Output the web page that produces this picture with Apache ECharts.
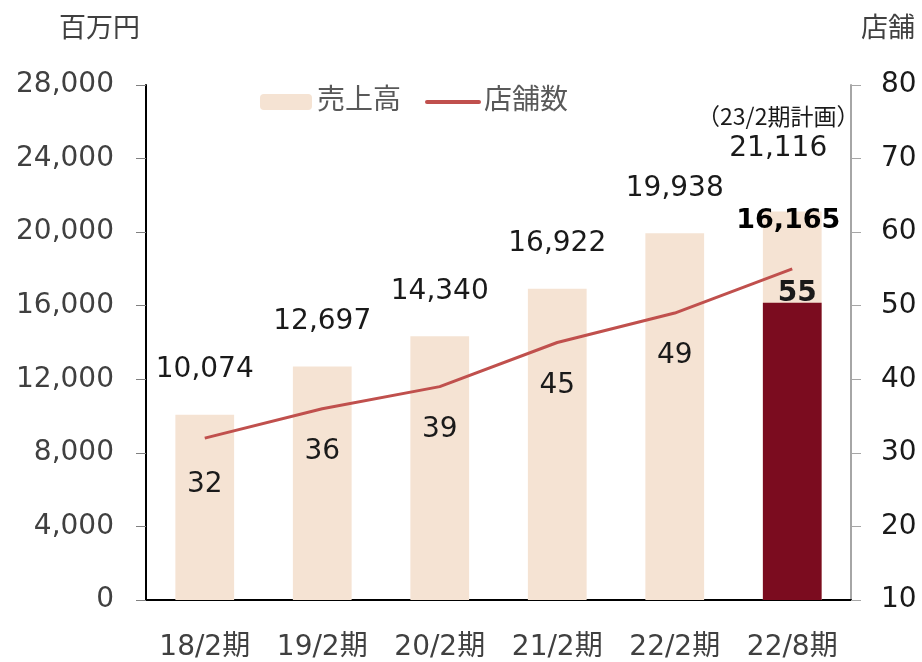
<!DOCTYPE html>
<html>
<head>
<meta charset="utf-8">
<script src="https://cdn.jsdelivr.net/npm/echarts@6/dist/echarts.min.js"></script>
<style>
  html, body { margin: 0; padding: 0; background: #fff; }
  #chart { width: 922px; height: 662px; }
</style>
</head>
<body>
<div id="chart"></div>
<script>
  // データ
  const periods = ['18/2期', '19/2期', '20/2期', '21/2期', '22/2期', '22/8期'];
  const sales = [10074, 12697, 14340, 16922, 19938, 21116];   // 最後は23/2期計画
  const salesActual = [null, null, null, null, null, 16165];  // 22/8期 実績
  const stores = [32, 36, 39, 45, 49, 55];
  const salesTicks = [0, 28000, 4000];
  const storeTicks = [10, 80, 10];

  const font = '"DejaVu Sans", "Noto Sans CJK JP", sans-serif';
  const axisGray = '#404040';

  let myChart = echarts.init(document.getElementById('chart'));

  let salesData = sales.map((v, i) => {
    if (i === sales.length - 1) {
      return {
        value: v,
        label: {
          distance: 48,
          offset: [-14, 0],
          formatter: '{s|（23/2期計画）}\n{b|' + v.toLocaleString('en-US') + '}'
        }
      };
    }
    return v;
  });

  let storeData = stores.map((v, i) => {
    if (i === 0) return { value: v, label: { distance: 33 } };
    if (i === stores.length - 1) {
      return { value: v, label: { distance: 11, fontWeight: 'bold', offset: [5, 0] } };
    }
    return v;
  });

  let option = {
    textStyle: { fontFamily: font },
    grid: { left: 146, right: 71, top: 85, bottom: 61 },
    legend: {
      data: ['売上高', { name: '店舗数', itemStyle: { opacity: 0 }, lineStyle: { width: 4, cap: 'round' } }],
      left: 255, top: 83,
      itemWidth: 52, itemHeight: 16, itemGap: 24,
      textStyle: { fontSize: 28, color: '#595959', fontFamily: font }
    },
    xAxis: {
      type: 'category',
      data: periods,
      axisLine: { lineStyle: { color: '#000', width: 2 } },
      axisTick: { show: false },
      axisLabel: { fontSize: 28, color: axisGray, margin: 34, interval: 0 }
    },
    yAxis: [
      {
        type: 'value',
        min: salesTicks[0], max: salesTicks[1], interval: salesTicks[2],
        name: '百万円',
        nameLocation: 'end',
        nameGap: 42,
        nameTextStyle: { fontSize: 27, color: axisGray, align: 'right', padding: [0, 6, 0, 0] },
        axisLine: { show: true, lineStyle: { color: '#000', width: 2 } },
        axisTick: { show: true, length: 10, lineStyle: { color: '#808080' } },
        axisLabel: { fontSize: 28, color: axisGray, margin: 32,
          formatter: v => v.toLocaleString('en-US') },
        splitLine: { show: false }
      },
      {
        type: 'value',
        min: storeTicks[0], max: storeTicks[1], interval: storeTicks[2],
        name: '店舗',
        nameLocation: 'end',
        nameGap: 42,
        nameTextStyle: { fontSize: 27, color: axisGray, align: 'left', padding: [0, 0, 0, 10] },
        axisLine: { show: true, lineStyle: { color: '#A6A6A6', width: 2 } },
        axisTick: { show: true, length: 10, lineStyle: { color: '#A6A6A6' } },
        axisLabel: { fontSize: 28, color: '#1a1a1a', margin: 30 },
        splitLine: { show: false }
      }
    ],
    series: [
      {
        name: '売上高',
        type: 'bar',
        data: salesData,
        barWidth: '50%',
        itemStyle: { color: '#F5E3D3' },
        label: {
          show: true, position: 'top', distance: 31,
          fontSize: 28, color: '#1a1a1a',
          formatter: p => p.value.toLocaleString('en-US'),
          rich: {
            s: { fontSize: 23, color: '#1a1a1a', lineHeight: 34, fontFamily: '"Noto Sans CJK JP", sans-serif' },
            b: { fontSize: 28, color: '#1a1a1a', lineHeight: 30 }
          }
        }
      },
      {
        name: '売上高実績',
        type: 'bar',
        data: salesActual,
        barWidth: '50%',
        barGap: '-100%',
        itemStyle: { color: '#7B0C1F' },
        label: {
          show: true, position: 'top', distance: 68, offset: [-4, 0],
          fontSize: 27, fontWeight: 'bold', color: '#000',
          formatter: p => p.value.toLocaleString('en-US')
        }
      },
      {
        name: '店舗数',
        type: 'line',
        yAxisIndex: 1,
        data: storeData,
        symbol: 'circle',
        symbolSize: 0,
        showSymbol: true,
        lineStyle: { color: '#C0504D', width: 3 },
        itemStyle: { color: '#C0504D' },
        label: { show: true, position: 'bottom', distance: 29, fontSize: 28, color: '#1a1a1a' },
        z: 5
      }
    ]
  };
  myChart.setOption(option);
</script>
</body>
</html>
